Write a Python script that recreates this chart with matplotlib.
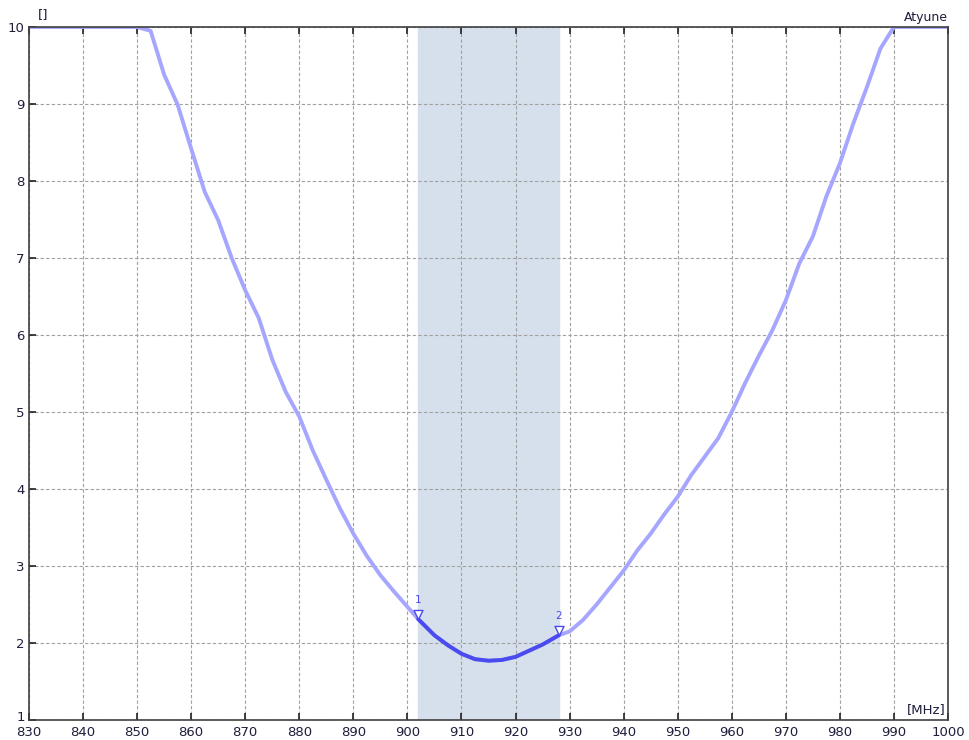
#!/usr/bin/env python3
# coding: utf-8

import matplotlib
matplotlib.use('Agg')
import matplotlib.pyplot as plt
from matplotlib.path import Path
from matplotlib.transforms import ScaledTranslation

# tuning curve, [MHz] vs []
freq = [830, 850, 852.5, 855, 857.5, 860, 862.5, 865, 867.5, 870, 872.5,
        875, 877.5, 880, 882.5, 885, 887.5, 890, 892.5, 895, 897.5, 900,
        902, 905, 907.5, 910, 912.5, 915, 917.5, 920, 922.5, 925, 928,
        930, 932.5, 935, 937.5, 940, 942.5, 945, 947.5, 950, 952.5, 955,
        957.5, 960, 962.5, 965, 967.5, 970, 972.5, 975, 977.5, 980, 982.5,
        985, 987.5, 990, 1000]
atyune = [10, 10, 9.95, 9.38, 8.99, 8.42, 7.86, 7.49, 7.0, 6.58, 6.22,
          5.68, 5.26, 4.94, 4.5, 4.12, 3.75, 3.42, 3.13, 2.88, 2.67, 2.47,
          2.31, 2.1, 1.97, 1.86, 1.79, 1.77, 1.78, 1.82, 1.9, 1.98, 2.1,
          2.15, 2.3, 2.5, 2.72, 2.94, 3.2, 3.42, 3.67, 3.9, 4.18, 4.42,
          4.66, 5.0, 5.38, 5.73, 6.06, 6.45, 6.93, 7.28, 7.8, 8.23, 8.75,
          9.22, 9.72, 10, 10]

band = (902, 928)
marker_labels = ['1', '2']
marker_freq = [902, 928]

xticks = list(range(830, 1001, 10))
yticks = list(range(1, 11))

plt.rcParams['font.family'] = ['DejaVu Sans']

fig = plt.figure(figsize=(9.69, 7.40), dpi=100)
ax = fig.add_axes([29 / 969, 1 - 720 / 740, 919 / 969, 693 / 740])

ax.axvspan(band[0], band[1], color='#d5e0ec', zorder=0)

ax.plot(freq, atyune, color='#a6a6ff', lw=2.8, solid_capstyle='round',
        zorder=3)
inband = [(f, v) for f, v in zip(freq, atyune) if band[0] <= f <= band[1]]
ax.plot([p[0] for p in inband], [p[1] for p in inband],
        color='#4a4aee', lw=2.8, solid_capstyle='round', zorder=4)

# triangle marker with its tip on the trace
tri = Path([(-0.5, 1.0), (0.5, 1.0), (0.0, 0.0), (-0.5, 1.0)],
           [Path.MOVETO, Path.LINETO, Path.LINETO, Path.CLOSEPOLY])
for lab, f in zip(marker_labels, marker_freq):
    v = atyune[freq.index(f)]
    ax.plot(f, v, marker=tri, ms=13, mfc='white', mec='#4a4aee', mew=1.0,
            zorder=5, clip_on=False)
    ax.annotate(lab, (f, v), xytext=(0, 10), textcoords='offset points',
                ha='center', va='bottom', fontsize=7.5, color='#4a4aee',
                zorder=6)

ax.set_xlim(830, 1000)
ax.set_ylim(1, 10)
ax.set_xticks(xticks)
ax.set_yticks(yticks)
ax.grid(True, color='#a0a0a0', ls=(0, (3, 2)), lw=0.8)
ax.set_axisbelow(False)
for s in ax.spines.values():
    s.set_color('#404040')
    s.set_linewidth(1.2)
    s.set_zorder(7)

ax.tick_params(direction='in', length=5, width=1.2, color='#202020',
               top=True, right=False, labelsize=9.5, labelcolor='#1e1e3c')
ax.tick_params(axis='x', pad=4)
ax.tick_params(axis='y', pad=3)

# lift the bottom y label a little so it clears "830"
lbl = ax.get_yticklabels()[0]
lbl.set_transform(lbl.get_transform()
                  + ScaledTranslation(0, 4 / 100, fig.dpi_scale_trans))

fig.text(38 / 969, 1 - 15 / 740, '[]', fontsize=9.5, color='#1e1e3c',
         va='center', ha='left')
fig.text(948 / 969, 1 - 18 / 740, 'Atyune', fontsize=9, color='#1e1e3c',
         va='center', ha='right')
ax.text(0.997, 0.006, '[MHz]', transform=ax.transAxes, fontsize=9.5,
        color='#1e1e3c', ha='right', va='bottom',
        bbox=dict(fc='white', ec='none', pad=1), zorder=8)

fig.savefig('out.png', dpi=100, facecolor='white')
